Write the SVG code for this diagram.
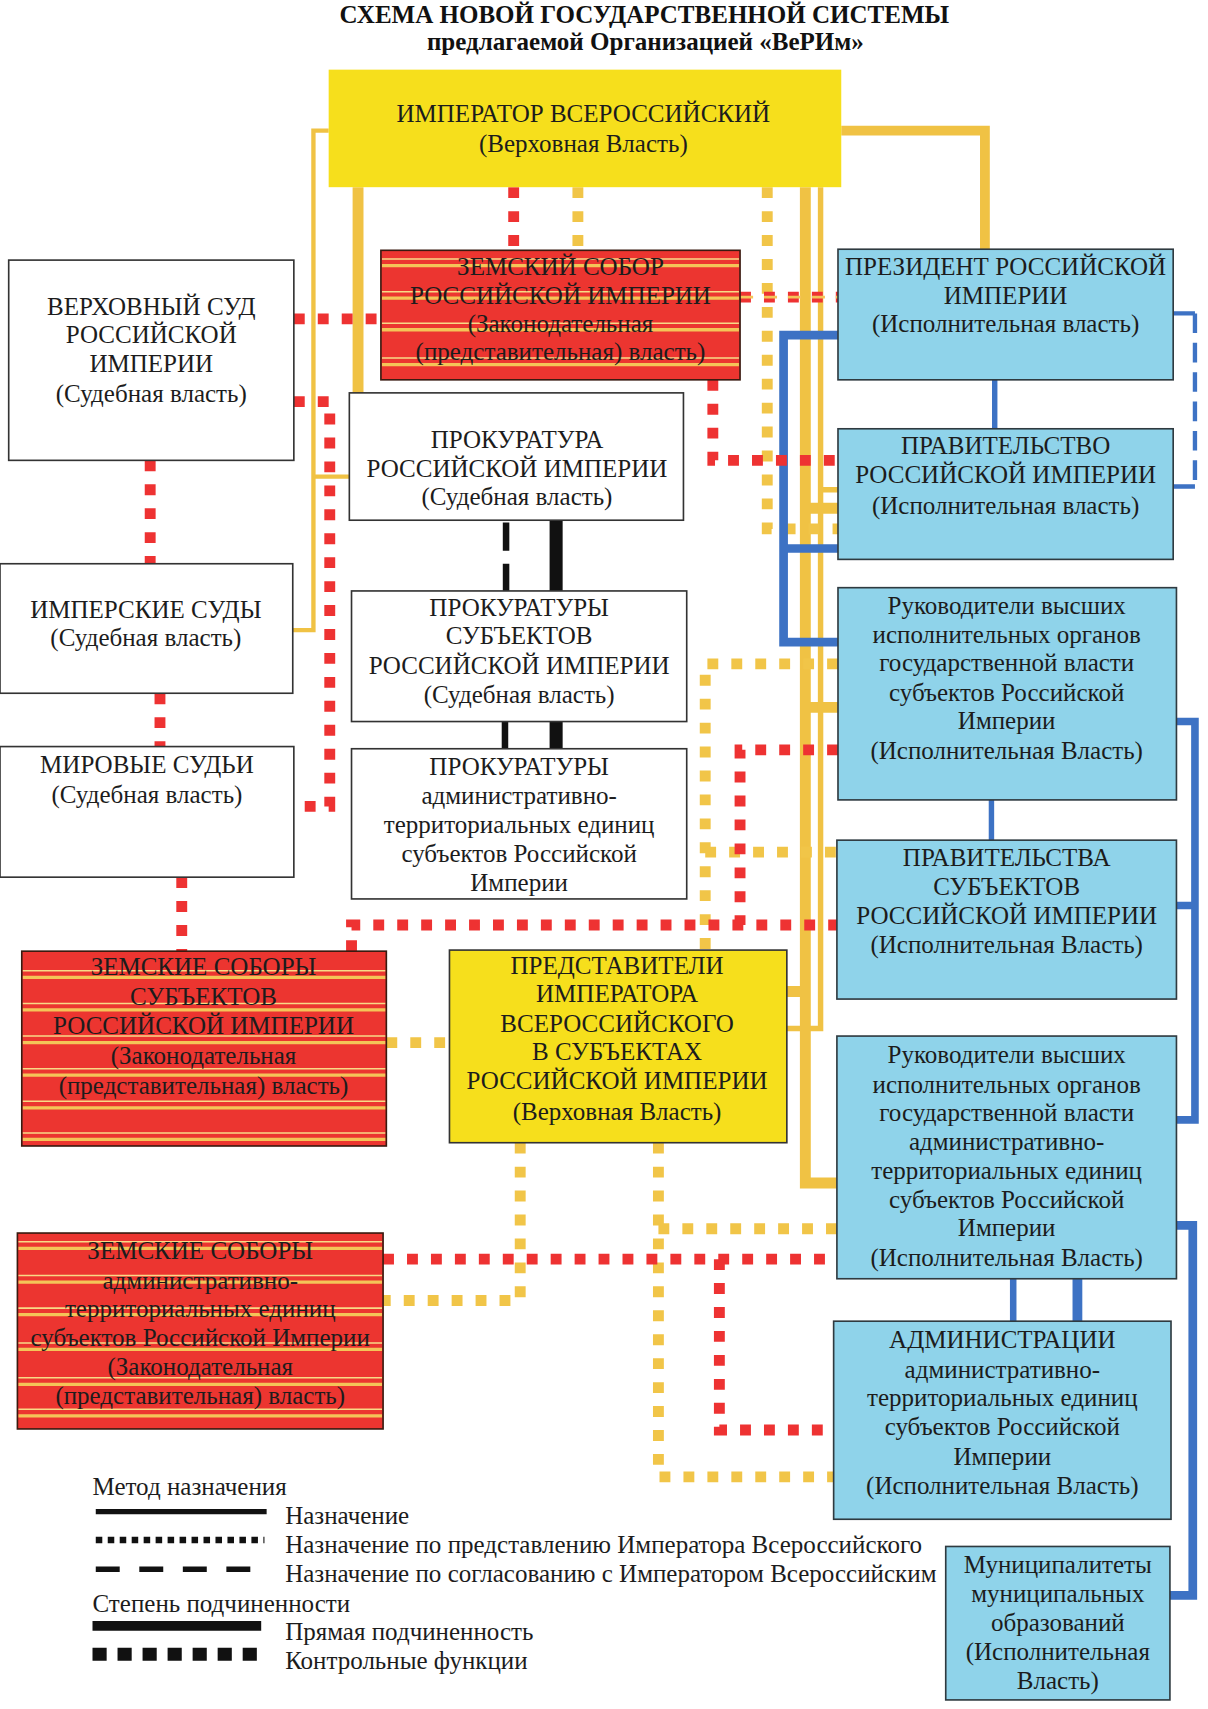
<svg xmlns="http://www.w3.org/2000/svg" width="1208" height="1709" viewBox="0 0 1208 1709">
<style>
.t{font-family:"Liberation Serif","Times New Roman",serif;font-size:23px;fill:#1c1c1c;text-anchor:middle}
.title{font-family:"Liberation Serif","Times New Roman",serif;font-weight:bold;text-anchor:middle;fill:#111}
.lg{font-family:"Liberation Serif","Times New Roman",serif;font-size:23px;fill:#1c1c1c}
.wb{fill:#ffffff;stroke:#333;stroke-width:1.5}
.bb{fill:#8fd3ea;stroke:#2f3a40;stroke-width:1.5}
.rb{fill:#ec3530;stroke:#3a1a10;stroke-width:1.5}
.yb{fill:#f6df1c}
.ybs{fill:#f6df1c;stroke:#333;stroke-width:1.5}
.st{stroke:#f4c458;stroke-width:3}
.st2{stroke:#f8da86;stroke-width:1.4}
.ys{fill:none;stroke:#f0c244}
.yd{fill:none;stroke:#f1c548;stroke-width:10;stroke-dasharray:10 12}
.rd{fill:none;stroke:#ee3232;stroke-width:10;stroke-dasharray:10 12}
.bl{fill:none;stroke:#3d72c4}
.bk{fill:none;stroke:#111}
</style>
<rect width="1208" height="1709" fill="#ffffff"/>
<g transform="scale(1.0883)">
<text class="title" x="592" y="21" font-size="23">СХЕМА НОВОЙ ГОСУДАРСТВЕННОЙ СИСТЕМЫ</text>
<text class="title" x="593" y="46" font-size="23">предлагаемой Организацией «ВеРИм»</text>

<g id="connectors">
<!-- yellow solid -->
<path class="ys" stroke-width="4" d="M302,120 H288 V579 H269 M288,438 H321"/>
<path class="ys" stroke-width="10" d="M329,172 V361"/>
<path class="ys" stroke-width="9" d="M773,120 H905 V229"/>
<path class="ys" stroke-width="10" d="M740,172 V1087 H769 M740,911 H723 M740,650 H770 M740,467 H770"/>
<path class="ys" stroke-width="5" d="M754,172 V945 H723 M754,450 H770"/>
<!-- yellow dotted -->
<path class="yd" d="M531,172 V230"/>
<path class="yd" d="M705,172 V486 H770"/>
<path class="yd" d="M770,610 H648 V873"/>
<path class="yd" d="M648,783 H769"/>
<path class="yd" d="M355,958 H413"/>
<path class="yd" d="M478,1050 V1195 H352"/>
<path class="yd" d="M605,1050 V1357 H766"/>
<path class="yd" d="M605,1129 H769"/>
<!-- blue -->
<path class="bl" stroke-width="5" d="M914,349 V394"/>
<path class="bl" stroke-width="8" d="M770,308 H720 V590 H770 M720,504 H770"/>
<path class="bl" stroke-width="4" d="M1078,288 H1098 M1078,447 H1098"/>
<path class="bl" stroke-width="4" stroke-dasharray="18 9" d="M1098,288 V447"/>
<path class="bl" stroke-width="7" d="M1081,663 H1098 V1029 H1081 M1081,832 H1098"/>
<path class="bl" stroke-width="5" d="M911,735 V772"/>
<path class="bl" stroke-width="6" d="M931,1175 V1214"/>
<path class="bl" stroke-width="9" d="M990,1175 V1214"/>
<path class="bl" stroke-width="8" d="M1081,1126 H1096 V1466 H1075"/>
<!-- black -->
<path class="bk" stroke-width="6" stroke-dasharray="26 12" d="M465,480 V543"/>
<path class="bk" stroke-width="12" d="M511,478 V543"/>
<path class="bk" stroke-width="6" d="M464,663 V688"/>
<path class="bk" stroke-width="12" d="M511,663 V688"/>
<!-- red -->
<path class="rd" d="M472,172 V230"/>
<path class="rd" stroke-width="8" d="M270,293 H350"/>
<path class="rd" stroke-width="11" stroke-dasharray="12 10" d="M680,273 H770"/>
<path fill="none" stroke="#f4c458" stroke-width="2.5" stroke-dasharray="12 10" d="M680,273 H770"/>
<path class="rd" d="M655,349 V423 H770"/>
<path class="rd" d="M270,369 H303 V741 H270"/>
<path class="rd" d="M138,423 V518"/>
<path class="rd" d="M147,637 V686"/>
<path class="rd" stroke-width="7" stroke-dasharray="7 7" d="M167,806 V874"/>
<path class="rd" d="M323,874 V850 H770"/>
<path class="rd" d="M770,689 H680 V850"/>
<path class="rd" d="M352,1157 H769"/>
<path class="rd" d="M661,1157 V1314 H766"/>
</g>

<g id="emperor">
<rect class="yb" x="302" y="64" width="471" height="108"/>
<text class="t" x="536" y="112">ИМПЕРАТОР ВСЕРОССИЙСКИЙ</text>
<text class="t" x="536" y="140">(Верховная Власть)</text>
</g>

<g id="verkhovny-sud">
<rect class="wb" x="8" y="239" width="262" height="184"/>
<text class="t" x="139" y="289">ВЕРХОВНЫЙ СУД</text>
<text class="t" x="139" y="315">РОССИЙСКОЙ</text>
<text class="t" x="139" y="342">ИМПЕРИИ</text>
<text class="t" x="139" y="369">(Судебная власть)</text>
</g>

<g id="zemsky-sobor">
<rect class="rb" x="350" y="230" width="330" height="119"/>
<path class="st" d="M351,244 H679 M351,274 H679 M351,303 H679 M351,335 H679"/>
<path class="st2" d="M351,238 H679 M351,268 H679 M351,297 H679 M351,329 H679"/>
<text class="t" x="515" y="253">ЗЕМСКИЙ СОБОР</text>
<text class="t" x="515" y="279">РОССИЙСКОЙ ИМПЕРИИ</text>
<text class="t" x="515" y="305">(Законодательная</text>
<text class="t" x="515" y="331">(представительная) власть)</text>
</g>

<g id="president">
<rect class="bb" x="770" y="229" width="308" height="120"/>
<text class="t" x="924" y="253">ПРЕЗИДЕНТ РОССИЙСКОЙ</text>
<text class="t" x="924" y="279">ИМПЕРИИ</text>
<text class="t" x="924" y="305">(Исполнительная власть)</text>
</g>

<g id="prokuratura">
<rect class="wb" x="321" y="361" width="307" height="117"/>
<text class="t" x="475" y="412">ПРОКУРАТУРА</text>
<text class="t" x="475" y="438">РОССИЙСКОЙ ИМПЕРИИ</text>
<text class="t" x="475" y="464">(Судебная власть)</text>
</g>

<g id="pravitelstvo">
<rect class="bb" x="770" y="394" width="308" height="120"/>
<text class="t" x="924" y="417">ПРАВИТЕЛЬСТВО</text>
<text class="t" x="924" y="444">РОССИЙСКОЙ ИМПЕРИИ</text>
<text class="t" x="924" y="472">(Исполнительная власть)</text>
</g>

<g id="imperskie-sudy">
<rect class="wb" x="0" y="518" width="269" height="119"/>
<text class="t" x="134" y="568">ИМПЕРСКИЕ СУДЫ</text>
<text class="t" x="134" y="594">(Судебная власть)</text>
</g>

<g id="prokuratury-subjektov">
<rect class="wb" x="323" y="543" width="308" height="120"/>
<text class="t" x="477" y="566">ПРОКУРАТУРЫ</text>
<text class="t" x="477" y="592">СУБЪЕКТОВ</text>
<text class="t" x="477" y="619">РОССИЙСКОЙ ИМПЕРИИ</text>
<text class="t" x="477" y="646">(Судебная власть)</text>
</g>

<g id="rukovoditeli-subjektov">
<rect class="bb" x="770" y="540" width="311" height="195"/>
<text class="t" x="925" y="564">Руководители высших</text>
<text class="t" x="925" y="591">исполнительных органов</text>
<text class="t" x="925" y="617">государственной власти</text>
<text class="t" x="925" y="644">субъектов Российской</text>
<text class="t" x="925" y="670">Империи</text>
<text class="t" x="925" y="697">(Исполнительная Власть)</text>
</g>

<g id="mirovye-sudi">
<rect class="wb" x="0" y="686" width="270" height="120"/>
<text class="t" x="135" y="710">МИРОВЫЕ СУДЬИ</text>
<text class="t" x="135" y="738">(Судебная власть)</text>
</g>

<g id="prokuratury-ate">
<rect class="wb" x="323" y="688" width="308" height="138"/>
<text class="t" x="477" y="712">ПРОКУРАТУРЫ</text>
<text class="t" x="477" y="739">административно-</text>
<text class="t" x="477" y="765">территориальных единиц</text>
<text class="t" x="477" y="792">субъектов Российской</text>
<text class="t" x="477" y="819">Империи</text>
</g>

<g id="pravitelstva-subjektov">
<rect class="bb" x="769" y="772" width="312" height="146"/>
<text class="t" x="925" y="796">ПРАВИТЕЛЬСТВА</text>
<text class="t" x="925" y="822">СУБЪЕКТОВ</text>
<text class="t" x="925" y="849">РОССИЙСКОЙ ИМПЕРИИ</text>
<text class="t" x="925" y="876">(Исполнительная Власть)</text>
</g>

<g id="zemskie-sobory-subjektov">
<rect class="rb" x="20" y="874" width="335" height="179"/>
<path class="st" d="M21,898 H354 M21,928 H354 M21,958 H354 M21,988 H354 M21,1018 H354 M21,1047 H354"/>
<path class="st2" d="M21,892 H354 M21,922 H354 M21,952 H354 M21,982 H354 M21,1012 H354 M21,1041 H354"/>
<text class="t" x="187" y="896">ЗЕМСКИЕ СОБОРЫ</text>
<text class="t" x="187" y="923">СУБЪЕКТОВ</text>
<text class="t" x="187" y="950">РОССИЙСКОЙ ИМПЕРИИ</text>
<text class="t" x="187" y="978">(Законодательная</text>
<text class="t" x="187" y="1005">(представительная) власть)</text>
</g>

<g id="predstaviteli">
<rect class="ybs" x="413" y="873" width="310" height="177"/>
<text class="t" x="567" y="895">ПРЕДСТАВИТЕЛИ</text>
<text class="t" x="567" y="921">ИМПЕРАТОРА</text>
<text class="t" x="567" y="948">ВСЕРОССИЙСКОГО</text>
<text class="t" x="567" y="974">В СУБЪЕКТАХ</text>
<text class="t" x="567" y="1001">РОССИЙСКОЙ ИМПЕРИИ</text>
<text class="t" x="567" y="1029">(Верховная Власть)</text>
</g>

<g id="rukovoditeli-ate">
<rect class="bb" x="769" y="952" width="312" height="223"/>
<text class="t" x="925" y="977">Руководители высших</text>
<text class="t" x="925" y="1004">исполнительных органов</text>
<text class="t" x="925" y="1030">государственной власти</text>
<text class="t" x="925" y="1057">административно-</text>
<text class="t" x="925" y="1083">территориальных единиц</text>
<text class="t" x="925" y="1110">субъектов Российской</text>
<text class="t" x="925" y="1136">Империи</text>
<text class="t" x="925" y="1163">(Исполнительная Власть)</text>
</g>

<g id="zemskie-sobory-ate">
<rect class="rb" x="16" y="1133" width="336" height="180"/>
<path class="st" d="M17,1147 H351 M17,1178 H351 M17,1208 H351 M17,1240 H351 M17,1272 H351 M17,1301 H351"/>
<path class="st2" d="M17,1141 H351 M17,1172 H351 M17,1202 H351 M17,1234 H351 M17,1266 H351 M17,1295 H351"/>
<text class="t" x="184" y="1157">ЗЕМСКИЕ СОБОРЫ</text>
<text class="t" x="184" y="1184">административно-</text>
<text class="t" x="184" y="1210">территориальных единиц</text>
<text class="t" x="184" y="1237">субъектов Российской Империи</text>
<text class="t" x="184" y="1263">(Законодательная</text>
<text class="t" x="184" y="1290">(представительная) власть)</text>
</g>

<g id="administracii">
<rect class="bb" x="766" y="1214" width="310" height="182"/>
<text class="t" x="921" y="1239">АДМИНИСТРАЦИИ</text>
<text class="t" x="921" y="1266">административно-</text>
<text class="t" x="921" y="1292">территориальных единиц</text>
<text class="t" x="921" y="1319">субъектов Российской</text>
<text class="t" x="921" y="1346">Империи</text>
<text class="t" x="921" y="1373">(Исполнительная Власть)</text>
</g>

<g id="municipalitety">
<rect class="bb" x="869" y="1421" width="206" height="141"/>
<text class="t" x="972" y="1445">Муниципалитеты</text>
<text class="t" x="972" y="1472">муниципальных</text>
<text class="t" x="972" y="1499">образований</text>
<text class="t" x="972" y="1525">(Исполнительная</text>
<text class="t" x="972" y="1552">Власть)</text>
</g>

<g id="legend">
<text class="lg" x="85" y="1374">Метод назначения</text>
<line class="bk" x1="88" y1="1389" x2="245" y2="1389" stroke-width="5"/>
<text class="lg" x="262" y="1400">Назначение</text>
<line class="bk" x1="88" y1="1415" x2="243" y2="1415" stroke-width="6" stroke-dasharray="6 5"/>
<text class="lg" x="262" y="1427">Назначение по представлению Императора Всероссийского</text>
<line class="bk" x1="88" y1="1442" x2="232" y2="1442" stroke-width="5" stroke-dasharray="22 18"/>
<text class="lg" x="262" y="1454">Назначение по согласованию с Императором Всероссийским</text>
<text class="lg" x="85" y="1481">Степень подчиненности</text>
<line class="bk" x1="85" y1="1494" x2="240" y2="1494" stroke-width="9"/>
<text class="lg" x="262" y="1507">Прямая подчиненность</text>
<line class="bk" x1="85" y1="1520" x2="236" y2="1520" stroke-width="12" stroke-dasharray="13 10"/>
<text class="lg" x="262" y="1534">Контрольные функции</text>
</g>
</g>
</svg>
